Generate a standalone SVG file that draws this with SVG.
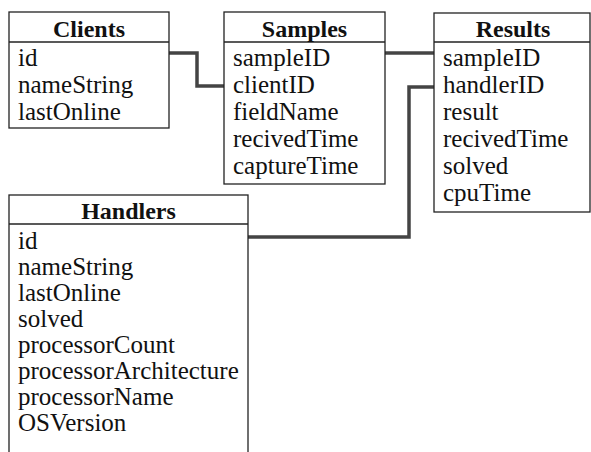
<svg xmlns="http://www.w3.org/2000/svg" width="591" height="452" viewBox="0 0 591 452">
<style>
.box{fill:#fff;stroke:#222;stroke-width:1.3}
.sep{stroke:#222;stroke-width:1.3}
.t{font-family:"Liberation Serif","Times New Roman",serif;font-size:25px;fill:#111}
.h{font-family:"Liberation Serif","Times New Roman",serif;font-size:24px;font-weight:bold;fill:#111;text-anchor:middle}
.c{fill:none;stroke:#444;stroke-width:3.5}
</style>
<rect width="591" height="452" fill="#fff"/>
<g id="connectors">
<polyline class="c" points="169,53 197,53 197,86 224,86"/>
<polyline class="c" points="385,53 434,53"/>
<polyline class="c" points="248,237 409,237 409,87 434,87"/>
</g>
<g id="clients">
<rect class="box" x="9" y="12" width="160" height="116"/>
<line class="sep" x1="9" y1="42" x2="169" y2="42"/>
<text class="h" x="89" y="37">Clients</text>
<text class="t" x="18" y="66">id</text>
<text class="t" x="18" y="93">nameString</text>
<text class="t" x="18" y="120">lastOnline</text>
</g>
<g id="samples">
<rect class="box" x="224" y="12" width="161" height="172"/>
<line class="sep" x1="224" y1="42" x2="385" y2="42"/>
<text class="h" x="304.5" y="37">Samples</text>
<text class="t" x="233" y="66">sampleID</text>
<text class="t" x="233" y="93">clientID</text>
<text class="t" x="233" y="120">fieldName</text>
<text class="t" x="233" y="147">recivedTime</text>
<text class="t" x="233" y="174">captureTime</text>
</g>
<g id="results">
<rect class="box" x="434" y="13" width="156" height="199"/>
<line class="sep" x1="434" y1="42" x2="590" y2="42"/>
<text class="h" x="513" y="37">Results</text>
<text class="t" x="443" y="66">sampleID</text>
<text class="t" x="443" y="93">handlerID</text>
<text class="t" x="443" y="120">result</text>
<text class="t" x="443" y="147">recivedTime</text>
<text class="t" x="443" y="174">solved</text>
<text class="t" x="443" y="201">cpuTime</text>
</g>
<g id="handlers">
<rect class="box" x="9" y="195" width="239" height="270"/>
<line class="sep" x1="9" y1="224" x2="248" y2="224"/>
<text class="h" x="128.5" y="219">Handlers</text>
<text class="t" x="18" y="249">id</text>
<text class="t" x="18" y="275">nameString</text>
<text class="t" x="18" y="301">lastOnline</text>
<text class="t" x="18" y="327">solved</text>
<text class="t" x="18" y="353">processorCount</text>
<text class="t" x="18" y="379">processorArchitecture</text>
<text class="t" x="18" y="405">processorName</text>
<text class="t" x="18" y="431">OSVersion</text>
</g>
</svg>
